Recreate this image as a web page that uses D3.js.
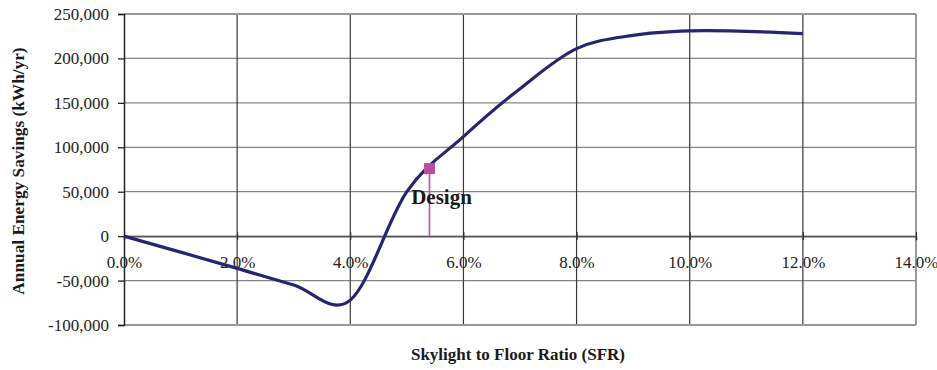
<!DOCTYPE html>
<html><head><meta charset="utf-8">
<script src="https://cdn.jsdelivr.net/npm/d3@7"></script>
<style>body{margin:0;background:#fff}svg{display:block}</style>
</head><body>
<script>
const sfr = [0, 1, 2, 3, 4, 5, 6, 7, 8, 9, 10, 11, 12];
const savings = [0, -18000, -36300, -55000, -72000, 50000, 112000, 166000, 211000, 226000, 231000, 230500, 228000];
const designX = [5.4];
const designY = [76000];
const xTicks = [0, 2, 4, 6, 8, 10, 12, 14];
const yTicks = [-100000, -50000, 0, 50000, 100000, 150000, 200000, 250000];

const W = 937, H = 370;
const m = {l:124, r:21, t:14, b:45};
const svg = d3.select("body").append("svg").attr("width", W).attr("height", H);
const x = d3.scaleLinear().domain([0,14]).range([m.l, W-m.r]);
const y = d3.scaleLinear().domain([-100000,250000]).range([H-m.b, m.t]);
const font = "'Liberation Serif','Times New Roman',serif";

// horizontal gridlines
svg.append("g").selectAll("line").data(yTicks).join("line")
  .attr("x1", x(0)).attr("x2", x(14)).attr("y1", d=>y(d)).attr("y2", d=>y(d))
  .attr("stroke", "#858585").attr("stroke-width", 1.2);
// vertical gridlines
svg.append("g").selectAll("line").data(xTicks.slice(1)).join("line")
  .attr("x1", d=>x(d)).attr("x2", d=>x(d)).attr("y1", y(250000)).attr("y2", y(-100000))
  .attr("stroke", d=> d===14 ? "#999" : "#3a3a3a").attr("stroke-width", d=> d===14 ? 2 : 1.2);
// top/bottom border
svg.append("line").attr("x1", x(0)).attr("x2", x(14)).attr("y1", y(250000)).attr("y2", y(250000))
  .attr("stroke", "#999").attr("stroke-width", 2);
svg.append("line").attr("x1", x(0)).attr("x2", x(14)).attr("y1", y(-100000)).attr("y2", y(-100000))
  .attr("stroke", "#999").attr("stroke-width", 2);

// y axis
const fmt = d3.format(",");
const ya = d3.axisLeft(y).tickValues(yTicks).tickSize(6)
  .tickFormat(d => d===0 ? "0" : (d<0 ? "-" + fmt(-d) : fmt(d)));
const yg = svg.append("g").attr("transform", `translate(${x(0)},0)`).call(ya);
yg.select(".domain").attr("stroke", "#222").attr("stroke-width", 1.5);
yg.selectAll(".tick line").attr("stroke", "#222").attr("stroke-width", 1.3);
yg.selectAll("text").attr("font-family", font).attr("font-size", 17).attr("fill", "#222").attr("x", -15);

// x axis along zero line
const xa = d3.axisBottom(x).tickValues(xTicks).tickSize(4).tickFormat(d => d3.format(".1f")(d) + "%");
const xg = svg.append("g").attr("transform", `translate(0,${y(0)})`).call(xa);
xg.select(".domain").attr("stroke", "#555").attr("stroke-width", 1.5);
xg.selectAll(".tick line").attr("stroke", "#222").attr("y1", -4).attr("y2", 4);
xg.selectAll("text").attr("font-family", font).attr("font-size", 17).attr("fill", "#222").attr("y", 20);

// curve
const line = d3.line().x((d,i)=>x(sfr[i])).y(d=>y(d)).curve(d3.curveCardinal.tension(0));
svg.append("path").attr("d", line(savings)).attr("fill","none")
  .attr("stroke", "#252570").attr("stroke-width", 3.2).attr("stroke-linejoin","round");

// design marker
svg.append("line").attr("x1", x(designX[0])).attr("x2", x(designX[0]))
  .attr("y1", y(designY[0])).attr("y2", y(0)).attr("stroke", "#c050a8").attr("stroke-width", 1.6);
svg.append("rect").attr("x", x(designX[0])-5.5).attr("y", y(designY[0])-5.5)
  .attr("width", 11).attr("height", 11).attr("fill", "#b84ea3");
svg.append("text").attr("x", x(designX[0])+12).attr("y", y(designY[0])+35)
  .attr("text-anchor","middle").attr("font-family", font).attr("font-weight","bold")
  .attr("font-size", 21).attr("fill","#1a1a1a").text("Design");

// axis titles
svg.append("text").attr("transform", `translate(24,171) rotate(-90)`)
  .attr("text-anchor","middle").attr("font-family", font).attr("font-weight","bold")
  .attr("font-size", 17.3).attr("fill","#1a1a1a").text("Annual Energy Savings (kWh/yr)");
svg.append("text").attr("x", 518).attr("y", 360)
  .attr("text-anchor","middle").attr("font-family", font).attr("font-weight","bold")
  .attr("font-size", 17).attr("fill","#1a1a1a").text("Skylight to Floor Ratio (SFR)");
</script>
</body></html>
